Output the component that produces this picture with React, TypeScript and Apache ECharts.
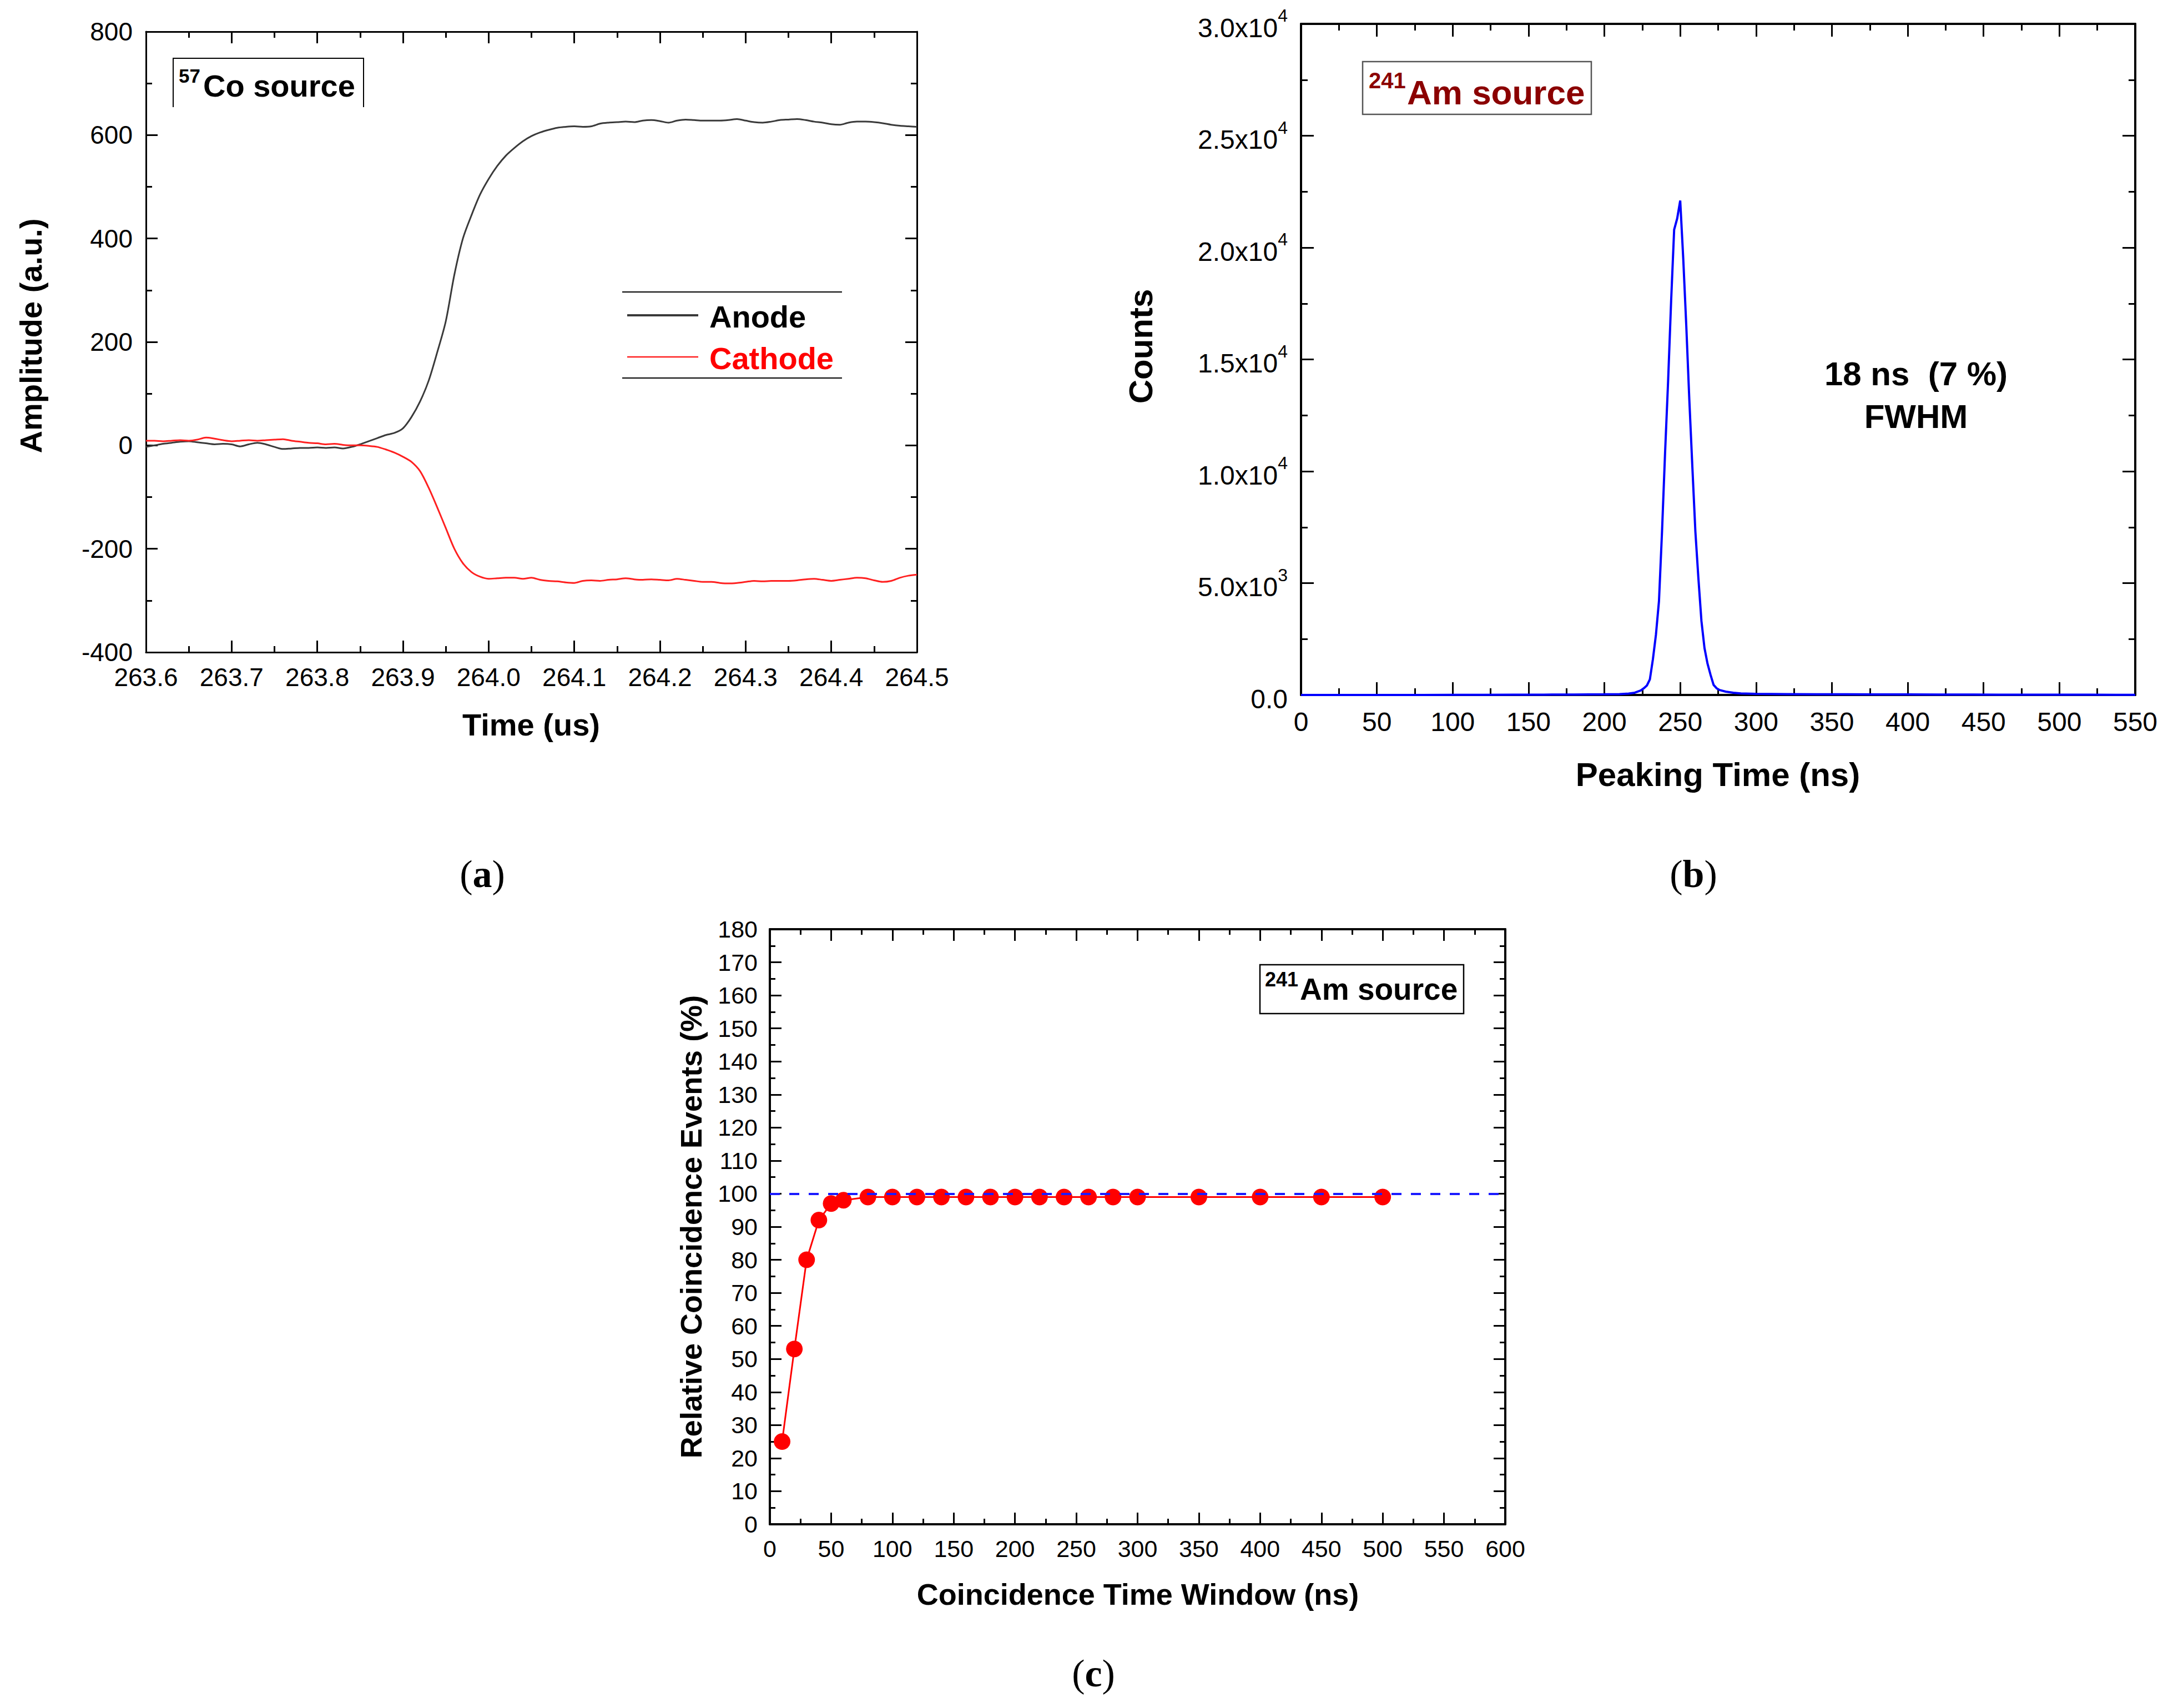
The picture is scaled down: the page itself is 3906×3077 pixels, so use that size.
import React, { useEffect, useRef } from 'react';
import * as echarts from 'echarts';

const FONT = '"Liberation Sans", Arial, Helvetica, sans-serif';
const SERIF = '"Liberation Serif", "Times New Roman", serif';

// (a) 57Co pulse shapes, time in us
const pulseTime = [
  263.6, 263.61, 263.62, 263.63, 263.64, 263.65, 263.66, 263.67, 263.68, 263.69,
  263.7, 263.71, 263.72, 263.73, 263.74, 263.75, 263.76, 263.77, 263.78, 263.79,
  263.8, 263.81, 263.82, 263.83, 263.84, 263.85, 263.86, 263.87, 263.88, 263.89,
  263.9, 263.91, 263.92, 263.93, 263.94, 263.95, 263.96, 263.97, 263.98, 263.99,
  264.0, 264.01, 264.02, 264.03, 264.04, 264.05, 264.06, 264.07, 264.08, 264.09,
  264.1, 264.11, 264.12, 264.13, 264.14, 264.15, 264.16, 264.17, 264.18, 264.19,
  264.2, 264.21, 264.22, 264.23, 264.24, 264.25, 264.26, 264.27, 264.28, 264.29,
  264.3, 264.31, 264.32, 264.33, 264.34, 264.35, 264.36, 264.37, 264.38, 264.39,
  264.4, 264.41, 264.42, 264.43, 264.44, 264.45, 264.46, 264.47, 264.48, 264.49,
  264.5,
];
const anodeAmp = [
  -3, 0, 3, 5, 7, 8, 6, 4, 2, 3,
  2, -2, 2, 5, 2, -3, -7, -6, -5, -5,
  -4, -5, -4, -6, -3, 2, 8, 14, 20, 24,
  33, 55, 85, 125, 180, 240, 330, 400, 445, 485,
  515, 540, 560, 575, 588, 598, 605, 610, 614, 616,
  617, 616, 617, 622, 624, 625, 626, 625, 628, 629,
  627, 624, 628, 630, 629, 628, 628, 628, 629, 631,
  628, 625, 624, 626, 629, 630, 631, 629, 626, 624,
  621, 620, 624, 626, 626, 625, 623, 620, 618, 617,
  616,
];
const cathodeAmp = [
  9, 9, 8, 9, 10, 9, 11, 15, 13, 10,
  8, 9, 10, 9, 10, 11, 12, 9, 7, 5,
  4, 2, 3, 1, 0, 0, -1, -3, -8, -14,
  -22, -32, -50, -82, -120, -160, -200, -228, -245, -254,
  -258, -257, -256, -256, -258, -256, -260, -262, -263, -265,
  -266, -262, -261, -262, -260, -259, -257, -259, -260, -259,
  -260, -261, -258, -260, -262, -264, -264, -266, -267, -266,
  -264, -262, -263, -262, -262, -262, -261, -259, -258, -260,
  -262, -260, -258, -256, -257, -261, -264, -262, -256, -252,
  -250,
];

// (b) peaking time distribution, 241Am
const peakTime = [
  0, 20, 40, 60, 80, 100, 120, 140, 160, 180, 200, 210, 216, 220, 224, 226, 228, 230, 232, 234,
  236, 238, 240, 242, 244, 246, 248, 250, 252, 254, 256, 258, 260, 262, 264, 266, 268, 270, 272, 274,
  276, 280, 285, 290, 300, 320, 340, 360, 380, 400, 420, 440, 460, 480, 500, 520, 550,
];
const peakCounts = [
  0, 0, 0, 0, 0, 5, 5, 10, 15, 20, 30, 40, 60, 100, 200, 300, 420, 700, 1600, 2700,
  4200, 7300, 10800, 14000, 17600, 20800, 21300, 22100, 19500, 16500, 13200, 10200, 7300, 5200, 3300, 2100, 1400, 900, 450, 300,
  220, 150, 100, 70, 50, 40, 30, 30, 25, 25, 20, 20, 15, 15, 10, 10, 5,
];

// (c) coincidence vs time window
const windowNs = [10, 20, 30, 40, 50, 60, 80, 100, 120, 140, 160, 180, 200, 220, 240, 260, 280, 300, 350, 400, 450, 500];
const coincidencePct = [25, 53, 80, 92, 97, 98, 99, 99, 99, 99, 99, 99, 99, 99, 99, 99, 99, 99, 99, 99, 99, 99];
const referenceLevel = 100;

const pairs = (xs: number[], ys: number[]) => xs.map((x, i) => [x, ys[i]]);

// scientific tick label like 1.5x10^4
const sciLabel = (v: number) => {
  if (v === 0) return '{m|0.0}';
  const e = Math.floor(Math.log10(v) + 1e-9);
  return `{m|${(v / Math.pow(10, e)).toFixed(1)}x10}{s|${e}}`;
};

interface Look {
  font: number;
  line: number;
  tick: number;
  major: number;
  minor: number;
  margin: number;
  formatter?: any;
  rich?: any;
}

const axis = (grid: number, pos: string, min: number, max: number, interval: number, look: Look) => {
  const mirror = pos === 'top' || pos === 'right';
  return {
    type: 'value',
    gridIndex: grid,
    position: pos,
    min,
    max,
    interval,
    axisLine: { show: true, onZero: false, lineStyle: { color: '#000', width: look.line } },
    axisTick: { show: true, inside: true, length: look.major, lineStyle: { color: '#000', width: look.tick } },
    minorTick: { show: true, splitNumber: 2, length: look.minor, lineStyle: { color: '#000', width: look.tick } },
    splitLine: { show: false },
    minorSplitLine: { show: false },
    axisLabel: {
      show: !mirror,
      margin: look.margin,
      fontSize: look.font,
      fontFamily: FONT,
      color: '#000',
      formatter: look.formatter,
      rich: look.rich,
    },
  };
};

const text = (x: number, y: number, s: string, size: number, o: any = {}) => ({
  type: 'text',
  x,
  y,
  rotation: o.rot || 0,
  z: 100,
  style: {
    text: s,
    fontFamily: o.family || FONT,
    fontSize: size,
    fontWeight: o.bold === false ? 'normal' : 'bold',
    fill: o.color || '#000',
    textAlign: o.align || 'center',
    align: o.align || 'center',
    textVerticalAlign: 'middle',
    verticalAlign: 'middle',
  },
});

const caption = (x: number, y: number, letter: string) => ({
  type: 'text',
  x,
  y,
  z: 100,
  style: {
    text: `{p|(}{l|${letter}}{p|)}`,
    align: 'center',
    textAlign: 'center',
    verticalAlign: 'middle',
    textVerticalAlign: 'middle',
    rich: {
      p: { fontFamily: SERIF, fontSize: 70, fill: '#000', color: '#000' },
      l: { fontFamily: SERIF, fontSize: 70, fontWeight: 'bold', fill: '#000', color: '#000' },
    },
  },
});

const lookA: Look = { font: 46, line: 3, tick: 3, major: 21, minor: 11, margin: 22, formatter: (v: number) => v.toFixed(1) };
const lookAY: Look = { ...lookA, margin: 24, formatter: (v: number) => String(v) };
const lookB: Look = { font: 48, line: 4, tick: 3, major: 23, minor: 12, margin: 24, formatter: (v: number) => String(v) };
const lookBY: Look = {
  ...lookB,
  margin: 24,
  formatter: sciLabel,
  rich: {
    m: { fontSize: 48, fontFamily: FONT, color: '#000', lineHeight: 62, verticalAlign: 'bottom' },
    s: { fontSize: 32, fontFamily: FONT, color: '#000', lineHeight: 62, verticalAlign: 'top' },
  },
};
const lookC: Look = { font: 43, line: 4, tick: 3, major: 21, minor: 10, margin: 22, formatter: (v: number) => String(v) };

const option = {
  animation: false,
  backgroundColor: '#fff',
  grid: [
    { left: 263, top: 57, width: 1389, height: 1118 },
    { left: 2344, top: 43, width: 1503, height: 1209 },
    { left: 1387, top: 1674, width: 1325, height: 1072 },
  ],
  xAxis: [
    axis(0, 'bottom', 263.6, 264.5, 0.1, lookA),
    axis(0, 'top', 263.6, 264.5, 0.1, lookA),
    axis(1, 'bottom', 0, 550, 50, lookB),
    axis(1, 'top', 0, 550, 50, lookB),
    axis(2, 'bottom', 0, 600, 50, lookC),
    axis(2, 'top', 0, 600, 50, lookC),
  ],
  yAxis: [
    axis(0, 'left', -400, 800, 200, lookAY),
    axis(0, 'right', -400, 800, 200, lookAY),
    axis(1, 'left', 0, 30000, 5000, lookBY),
    axis(1, 'right', 0, 30000, 5000, lookBY),
    axis(2, 'left', 0, 180, 10, lookC),
    axis(2, 'right', 0, 180, 10, lookC),
  ],
  series: [
    {
      name: 'Anode',
      type: 'line',
      xAxisIndex: 0,
      yAxisIndex: 0,
      data: pairs(pulseTime, anodeAmp),
      symbol: 'none',
      smooth: 0.3,
      lineStyle: { color: '#3a3a3a', width: 3 },
    },
    {
      name: 'Cathode',
      type: 'line',
      xAxisIndex: 0,
      yAxisIndex: 0,
      data: pairs(pulseTime, cathodeAmp),
      symbol: 'none',
      smooth: 0.3,
      lineStyle: { color: '#ff2020', width: 3 },
    },
    {
      name: 'Peaking time',
      type: 'line',
      xAxisIndex: 2,
      yAxisIndex: 2,
      data: pairs(peakTime, peakCounts),
      symbol: 'none',
      lineStyle: { color: '#0000ff', width: 4 },
    },
    {
      name: 'Relative coincidence',
      type: 'line',
      xAxisIndex: 4,
      yAxisIndex: 4,
      data: pairs(windowNs, coincidencePct),
      symbol: 'circle',
      symbolSize: 30,
      itemStyle: { color: '#ff0000' },
      lineStyle: { color: '#ff0000', width: 3 },
      markLine: {
        silent: true,
        symbol: ['none', 'none'],
        label: { show: false },
        lineStyle: { color: '#1a1aff', width: 4, type: [18, 17] },
        data: [{ yAxis: referenceLevel }],
      },
    },
  ],
  graphic: [
    // (a) source label box: top, left and right edges only
    {
      type: 'polyline',
      z: 90,
      shape: { points: [[312, 193], [312, 105], [655, 105], [655, 193]] },
      style: { stroke: '#000', lineWidth: 2, fill: 'none' },
    },
    text(322, 136, '57', 35, { align: 'left' }),
    text(366, 154, 'Co source', 56, { align: 'left' }),
    // (a) legend
    { type: 'line', z: 90, shape: { x1: 1121, y1: 526, x2: 1517, y2: 526 }, style: { stroke: '#000', lineWidth: 2 } },
    { type: 'line', z: 90, shape: { x1: 1121, y1: 681, x2: 1517, y2: 681 }, style: { stroke: '#000', lineWidth: 2 } },
    { type: 'line', z: 90, shape: { x1: 1130, y1: 568, x2: 1258, y2: 568 }, style: { stroke: '#3a3a3a', lineWidth: 4 } },
    { type: 'line', z: 90, shape: { x1: 1130, y1: 643, x2: 1258, y2: 643 }, style: { stroke: '#ff2020', lineWidth: 2.5 } },
    text(1278, 570, 'Anode', 56, { align: 'left' }),
    text(1278, 645, 'Cathode', 56, { align: 'left', color: '#ff0000' }),
    // (a) axis titles
    text(957, 1305, 'Time (us)', 56),
    text(55, 605, 'Amplitude (a.u.)', 56, { rot: Math.PI / 2 }),
    caption(869, 1574, 'a'),

    // (b) source label box
    {
      type: 'rect',
      z: 90,
      shape: { x: 2455, y: 111, width: 412, height: 95 },
      style: { stroke: '#555', lineWidth: 2.5, fill: '#fff' },
    },
    text(2466, 145, '241', 40, { align: 'left', color: '#8b0000' }),
    text(2535, 166, 'Am source', 62, { align: 'left', color: '#8b0000' }),
    text(3452, 673, '18 ns  (7 %)', 60),
    text(3452, 750, 'FWHM', 60),
    text(3095, 1395, 'Peaking Time (ns)', 60),
    text(2055, 624, 'Counts', 60, { rot: Math.PI / 2 }),
    caption(3051, 1574, 'b'),

    // (c) source label box
    {
      type: 'rect',
      z: 90,
      shape: { x: 2270, y: 1738, width: 367, height: 88 },
      style: { stroke: '#000', lineWidth: 2.5, fill: '#fff' },
    },
    text(2279, 1764, '241', 36, { align: 'left' }),
    text(2342, 1782, 'Am source', 55, { align: 'left' }),
    text(2050, 2872, 'Coincidence Time Window (ns)', 54),
    text(1245, 2210, 'Relative Coincidence Events (%)', 54, { rot: Math.PI / 2 }),
    caption(1970, 3014, 'c'),
  ],
};

export default function App() {
  const ref = useRef<HTMLDivElement>(null);

  useEffect(() => {
    document.body.style.margin = '0';
    if (!ref.current) return;
    const chart = echarts.init(ref.current, null, { renderer: 'svg' });
    chart.setOption(option as any);
    return () => {
      chart.dispose();
    };
  }, []);

  return <div ref={ref} style={{ width: 3906, height: 3077, background: '#fff' }} />;
}
